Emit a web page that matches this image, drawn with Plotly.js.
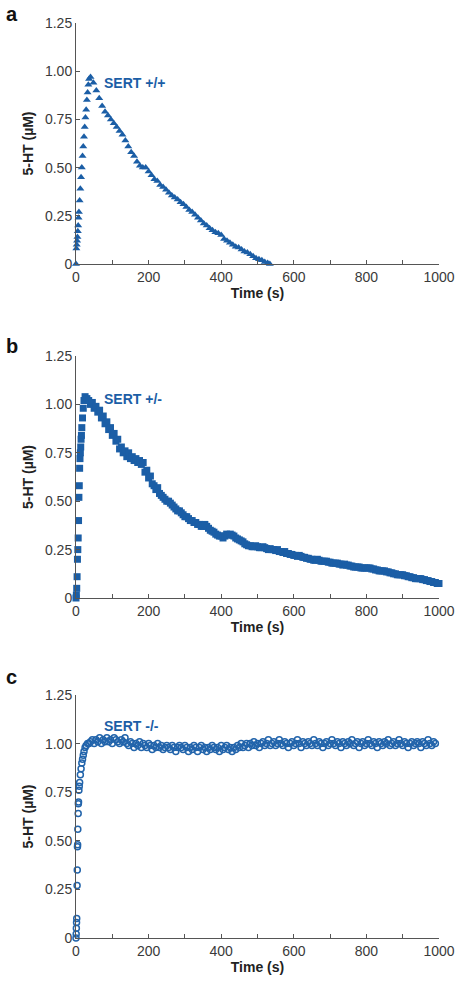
<!DOCTYPE html>
<html>
<head>
<meta charset="utf-8">
<script src="https://cdn.plot.ly/plotly-3.0.1.min.js"></script>
<style>html,body{margin:0;padding:0;background:#fff;}#chart{width:462px;height:993px;}</style>
</head>
<body>
<div id="chart"></div>
<script>
// Panel a: SERT +/+
const timeA = [0,1,2,3,4,5,6,7,8,10,12,14,16,18,20,22,24,26,28,30,32,34,36,
  40,48,56,64,72,80,88,96,104,112,120,128,136,144,152,160,168,176,184,192,200,208,216,224,232,240,248,256,264,272,280,288,296,304,312,320,328,336,344,352,360,368,376,384,392,400,408,416,424,432,440,448,456,464,472,480,488,496,504,512,520,528,534];
const valA = [0,0.08,0.10,0.12,0.14,0.17,0.20,0.24,0.27,0.33,0.39,0.45,0.50,0.56,0.61,0.66,0.71,0.76,0.80,0.85,0.89,0.93,0.96,
  0.97,0.94,0.90,0.86,0.82,0.79,0.77,0.75,0.73,0.71,0.69,0.67,0.64,0.61,0.58,0.56,0.53,0.51,0.50,0.50,0.48,0.46,0.44,0.43,0.41,0.40,0.385,0.37,0.355,0.345,0.335,0.32,0.31,0.295,0.28,0.27,0.255,0.24,0.225,0.21,0.20,0.185,0.175,0.165,0.16,0.15,0.13,0.12,0.11,0.10,0.09,0.085,0.075,0.065,0.06,0.05,0.04,0.03,0.025,0.02,0.01,0.005,0.0];

// Panel b: SERT +/-
const timeB = [0,1,2,3,4,5,6,7,8,9,10,11,12,13,14,15,16,18,20,22,
  25,30,35,40,45,50,55,60,65,70,75,80,85,90,95,100,105,110,115,120,
  125,130,135,140,145,150,155,160,165,170,175,180,185,190,195,200,205,210,215,220,
  225,230,235,240,245,250,255,260,265,270,275,280,285,290,295,300,305,310,315,320,
  325,330,335,340,345,350,355,360,365,370,375,380,385,390,395,400,405,410,415,420,
  425,430,435,440,445,450,455,460,465,470,475,480,485,490,495,500,505,510,515,520,
  525,530,535,540,545,550,555,560,565,570,575,580,585,590,595,600,605,610,615,620,
  625,630,635,640,645,650,655,660,665,670,675,680,685,690,695,700,705,710,715,720,
  725,730,735,740,745,750,755,760,765,770,775,780,785,790,795,800,805,810,815,820,
  825,830,835,840,845,850,855,860,865,870,875,880,885,890,895,900,905,910,915,920,
  925,930,935,940,945,950,955,960,965,970,975,980,985,990,995,1000];
const valB = [0,0.015,0.05,0.11,0.20,0.25,0.31,0.40,0.52,0.58,0.67,0.72,0.75,0.78,0.82,0.84,0.88,0.93,0.98,1.02,
  1.04,1.03,1.02,1.00,1.01,0.98,0.99,0.96,0.97,0.93,0.94,0.90,0.91,0.87,0.88,0.84,0.85,0.81,0.82,0.77,
  0.78,0.75,0.76,0.73,0.75,0.72,0.73,0.71,0.72,0.70,0.71,0.69,0.70,0.65,0.66,0.62,0.63,0.59,0.58,0.56,
  0.57,0.54,0.53,0.52,0.51,0.50,0.50,0.49,0.48,0.47,0.46,0.45,0.45,0.44,0.43,0.42,0.42,0.41,0.40,0.40,
  0.39,0.39,0.38,0.38,0.37,0.37,0.38,0.37,0.36,0.35,0.345,0.34,0.33,0.325,0.32,0.32,0.31,0.32,0.33,0.325,
  0.33,0.325,0.32,0.31,0.305,0.30,0.295,0.29,0.28,0.275,0.27,0.27,0.265,0.265,0.27,0.265,0.26,0.26,0.265,0.26,
  0.255,0.25,0.255,0.25,0.25,0.245,0.25,0.24,0.24,0.235,0.24,0.23,0.23,0.225,0.225,0.22,0.22,0.215,0.22,0.215,
  0.21,0.21,0.205,0.205,0.20,0.20,0.195,0.195,0.20,0.195,0.19,0.19,0.19,0.19,0.185,0.185,0.18,0.18,0.18,0.18,
  0.175,0.175,0.17,0.175,0.17,0.17,0.165,0.165,0.16,0.16,0.16,0.16,0.155,0.155,0.155,0.155,0.155,0.155,0.15,0.15,
  0.145,0.145,0.14,0.14,0.14,0.14,0.135,0.135,0.13,0.13,0.125,0.125,0.12,0.12,0.12,0.12,0.115,0.115,0.11,0.11,
  0.105,0.105,0.10,0.10,0.10,0.10,0.095,0.095,0.09,0.09,0.085,0.085,0.08,0.08,0.075,0.075];

// Panel c: SERT -/-
const timeC = [0,0.5,1,1.5,2,3,3.5,4,4.5,5,6,6.5,7,8,9,10,12,14,16,18,20,22,25,28,32,36,
  40,45,50,55,60,65,70,75,80,85,90,95,100,105,110,115,120,125,130,135,
  140,145,150,155,160,165,170,175,180,185,190,195,200,205,210,215,220,225,230,235,
  240,245,250,255,260,265,270,275,280,285,290,295,300,305,310,315,320,325,330,335,
  340,345,350,355,360,365,370,375,380,385,390,395,400,405,410,415,420,425,430,435,
  440,445,450,455,460,465,470,475,480,485,490,495,500,505,510,515,520,525,530,535,
  540,545,550,555,560,565,570,575,580,585,590,595,600,605,610,615,620,625,630,635,
  640,645,650,655,660,665,670,675,680,685,690,695,700,705,710,715,720,725,730,735,
  740,745,750,755,760,765,770,775,780,785,790,795,800,805,810,815,820,825,830,835,
  840,845,850,855,860,865,870,875,880,885,890,895,900,905,910,915,920,925,930,935,
  940,945,950,955,960,965,970,975,980,985,990];
const valC = [0,0.02,0.05,0.08,0.10,0.27,0.35,0.47,0.48,0.56,0.64,0.69,0.70,0.76,0.78,0.80,0.84,0.87,0.90,0.92,0.94,0.96,0.98,0.99,1.00,1.00,
  1.01,1.02,1.00,1.02,1.01,1.03,1.00,1.02,1.01,1.03,1.01,1.02,1.00,1.03,1.02,1.01,1.00,1.02,1.01,1.03,
  1.00,0.99,1.01,1.00,0.98,1.00,0.99,1.01,0.98,1.00,0.99,0.98,1.00,0.99,0.97,0.99,0.98,1.00,0.98,0.99,
  0.97,0.98,0.99,0.98,0.97,0.99,0.98,0.96,0.98,0.99,0.98,0.97,0.99,0.98,0.96,0.98,0.97,0.99,0.98,0.96,
  0.98,0.99,0.97,0.98,0.96,0.98,0.97,0.99,0.98,0.97,0.98,0.96,0.99,0.97,0.98,0.99,0.97,0.98,0.96,0.98,
  0.97,0.99,0.98,1.00,0.98,0.99,1.00,0.98,1.00,0.99,1.01,0.99,1.00,0.98,1.00,1.01,0.99,1.00,1.02,0.99,
  1.00,1.01,0.99,1.00,1.02,1.00,0.99,1.01,1.00,0.98,1.00,1.01,0.99,1.00,1.02,1.00,0.98,1.01,1.00,0.99,
  1.01,1.00,0.99,1.02,1.00,0.99,1.01,1.00,0.98,1.00,1.01,0.99,1.00,1.02,1.00,0.99,1.01,1.00,0.98,1.01,
  1.00,0.99,1.01,1.00,1.02,0.99,1.00,1.01,0.98,1.00,1.01,0.99,1.00,1.02,1.00,0.99,1.01,1.00,0.98,1.01,
  1.00,0.99,1.01,1.00,1.02,0.99,1.00,1.01,0.99,1.00,1.02,1.00,0.99,1.01,1.00,0.98,1.00,1.01,0.99,1.00,
  1.01,1.00,0.98,1.01,1.00,0.99,1.02,1.00,0.99,1.01,1.00];

const yTickVals = [0,0.25,0.5,0.75,1,1.25];
const yTickText = ['0','0.25','0.50','0.75','1.00','1.25'];
const panelLetters = ['a','b','c'];
const seriesLabels = ['SERT +/+','SERT +/-','SERT -/-'];
const labelPos = [[72,0.94],[72,1.03],[72,1.09]];

const blue = '#1b5ea6';
const font = 'Liberation Sans, Arial, sans-serif';

const traces = [
  {x: timeA, y: valA, xaxis:'x', yaxis:'y', mode:'markers', type:'scatter', cliponaxis:false,
   marker:{symbol:'triangle-up', size:7, color:blue}},
  {x: timeB, y: valB, xaxis:'x2', yaxis:'y2', mode:'markers', type:'scatter', cliponaxis:false,
   marker:{symbol:'square', size:7, color:blue}},
  {x: timeC, y: valC, xaxis:'x3', yaxis:'y3', mode:'markers', type:'scatter', cliponaxis:false,
   marker:{symbol:'circle-open', size:6, color:'#2264ab', line:{width:1.5, color:'#2264ab'}}}
];

function xa(anchor){
  return {anchor:anchor, domain:[0,1], range:[0,1000], dtick:200, tick0:0,
    ticks:'inside', ticklen:4, tickcolor:'#555', showline:true, linecolor:'#555', linewidth:1,
    showgrid:false, zeroline:false, fixedrange:true,
    minor:{dtick:100, ticks:'inside', ticklen:4, tickcolor:'#555', showgrid:false},
    tickfont:{family:font, size:14, color:'#3a3a3a'},
    title:{text:'<b>Time (s)</b>', font:{family:font, size:14, color:'#222'}, standoff:3}};
}
function ya(anchor, dom){
  return {anchor:anchor, domain:dom, range:[0,1.25], tickvals:yTickVals, ticktext:yTickText,
    ticks:'inside', ticklen:4, tickcolor:'#555', showline:true, linecolor:'#555', linewidth:1,
    showgrid:false, zeroline:false, fixedrange:true,
    tickfont:{family:font, size:14, color:'#3a3a3a'},
    title:{text:'<b>5-HT (\u00b5M)</b>', font:{family:font, size:14, color:'#222'}, standoff:8}};
}

const H = 993;
const annotations = [];
const letterY = [14, 346, 677];
panelLetters.forEach((l,i)=>{
  annotations.push({text:'<b>'+l+'</b>', xref:'paper', yref:'paper', x:(4-76)/363, y:1-letterY[i]/H,
    xanchor:'left', yanchor:'middle', showarrow:false, font:{family:font, size:20, color:'#111'}});
});
const axNames = [['x','y'],['x2','y2'],['x3','y3']];
seriesLabels.forEach((s,i)=>{
  annotations.push({text:'<b>'+s+'</b>', xref:axNames[i][0], yref:axNames[i][1], x:labelPos[i][0], y:labelPos[i][1],
    xanchor:'left', yanchor:'middle', showarrow:false, font:{family:font, size:14, color:blue}});
});

const layout = {
  width:462, height:993, margin:{l:76, r:23, t:0, b:0}, paper_bgcolor:'#fff', plot_bgcolor:'#fff',
  showlegend:false,
  xaxis: xa('y'), yaxis: ya('x', [1-264/H, 1-23/H]),
  xaxis2: xa('y2'), yaxis2: ya('x2', [1-598/H, 1-356/H]),
  xaxis3: xa('y3'), yaxis3: ya('x3', [1-938/H, 1-695/H]),
  annotations: annotations
};

Plotly.newPlot('chart', traces, layout, {staticPlot:true, displayModeBar:false});
</script>
</body>
</html>
